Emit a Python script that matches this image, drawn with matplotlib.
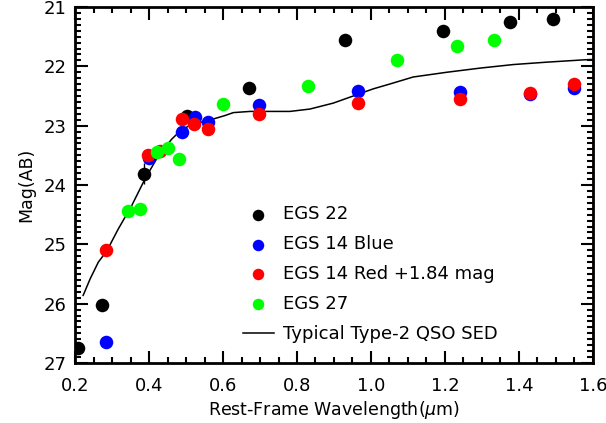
import matplotlib
matplotlib.use("Agg")
import matplotlib.pyplot as plt
from matplotlib.ticker import MultipleLocator, FormatStrFormatter

# EGS 22 (black)
egs22_x = [0.208, 0.272, 0.386, 0.504, 0.671, 0.930, 1.195, 1.376, 1.491]
egs22_y = [26.75, 26.03, 23.81, 22.84, 22.36, 21.56, 21.41, 21.25, 21.20]
egs22_err = [0.0, 0.0, 0.18, 0.10, 0.0, 0.08, 0.06, 0.0, 0.0]

# EGS 14 Blue
egs14b_x = [0.284, 0.401, 0.488, 0.524, 0.559, 0.697, 0.966, 1.241, 1.430, 1.548]
egs14b_y = [26.65, 23.55, 23.10, 22.86, 22.94, 22.66, 22.41, 22.43, 22.46, 22.37]

# EGS 14 Red +1.84 mag
egs14r_x = [0.284, 0.398, 0.430, 0.488, 0.522, 0.559, 0.697, 0.966, 1.241, 1.430, 1.548]
egs14r_y = [25.10, 23.49, 23.42, 22.88, 22.98, 23.05, 22.80, 22.62, 22.55, 22.45, 22.29]

# EGS 27 (green)
egs27_x = [0.344, 0.376, 0.421, 0.450, 0.480, 0.599, 0.831, 1.069, 1.232, 1.333]
egs27_y = [24.44, 24.41, 23.45, 23.38, 23.57, 22.64, 22.34, 21.89, 21.65, 21.55]

# Typical Type-2 QSO SED
sed_x = [0.222, 0.241, 0.263, 0.286, 0.317, 0.353, 0.389, 0.425, 0.461, 0.484,
         0.506, 0.542, 0.578, 0.605, 0.628, 0.673, 0.718, 0.781, 0.835, 0.898,
         0.952, 1.006, 1.050, 1.114, 1.205, 1.295, 1.385, 1.475, 1.578, 1.600]
sed_y = [25.86, 25.58, 25.30, 25.11, 24.74, 24.35, 23.90, 23.51, 23.23, 23.09,
         23.01, 22.94, 22.88, 22.83, 22.78, 22.76, 22.76, 22.76, 22.72, 22.62,
         22.50, 22.38, 22.30, 22.18, 22.10, 22.03, 21.97, 21.93, 21.89, 21.885]

xticks = [0.2, 0.4, 0.6, 0.8, 1.0, 1.2, 1.4, 1.6]
yticks = [21, 22, 23, 24, 25, 26, 27]

plt.rcParams['font.family'] = ['DejaVu Sans']
fig = plt.figure(figsize=(6.06, 4.23), dpi=100)
ax = fig.add_axes([0.1238, 0.1418, 0.8547, 0.8417])

ms = 95
ax.plot(sed_x, sed_y, color='black', lw=1.1, label='Typical Type-2 QSO SED', zorder=2)
ax.errorbar(egs22_x, egs22_y, yerr=egs22_err, fmt='none', ecolor='black', elinewidth=1, zorder=3)
ax.scatter(egs22_x, egs22_y, s=ms, color='black', label='EGS 22', zorder=4, linewidths=0)
ax.scatter(egs14b_x, egs14b_y, s=ms, color='#0000ff', label='EGS 14 Blue', zorder=4, linewidths=0)
ax.scatter(egs14r_x, egs14r_y, s=ms, color='#ff0000', label='EGS 14 Red +1.84 mag', zorder=5, linewidths=0)
ax.scatter(egs27_x, egs27_y, s=ms, color='#00ff00', label='EGS 27', zorder=6, linewidths=0)

ax.set_xlim(0.2, 1.6)
ax.set_ylim(27, 21)
ax.set_xticks(xticks)
ax.set_yticks(yticks)
ax.xaxis.set_major_formatter(FormatStrFormatter('%.1f'))
ax.xaxis.set_minor_locator(MultipleLocator(0.05))
ax.yaxis.set_minor_locator(MultipleLocator(0.1))
ax.tick_params(which='both', direction='in', top=True, right=True, labelsize=13, width=1.5)
ax.tick_params(which='major', length=9)
ax.tick_params(axis='x', which='major', pad=10)
ax.tick_params(axis='y', which='major', pad=6)
ax.tick_params(which='minor', length=4.5)
for s in ax.spines.values():
    s.set_linewidth(2)

ax.set_xlabel('Rest-Frame Wavelength($\\mu$m)', fontsize=12.5, labelpad=3)
ax.set_ylabel('Mag(AB)', fontsize=12.5, labelpad=6)

handles, labels = ax.get_legend_handles_labels()
order = [1, 2, 3, 4, 0]
ax.legend([handles[i] for i in order], [labels[i] for i in order],
          loc='upper left', bbox_to_anchor=(0.31, 0.463), frameon=False,
          fontsize=13, markerscale=0.85, handlelength=1.7, handletextpad=0.5,
          labelspacing=0.66, borderaxespad=0)

fig.savefig('out.png', dpi=100)
